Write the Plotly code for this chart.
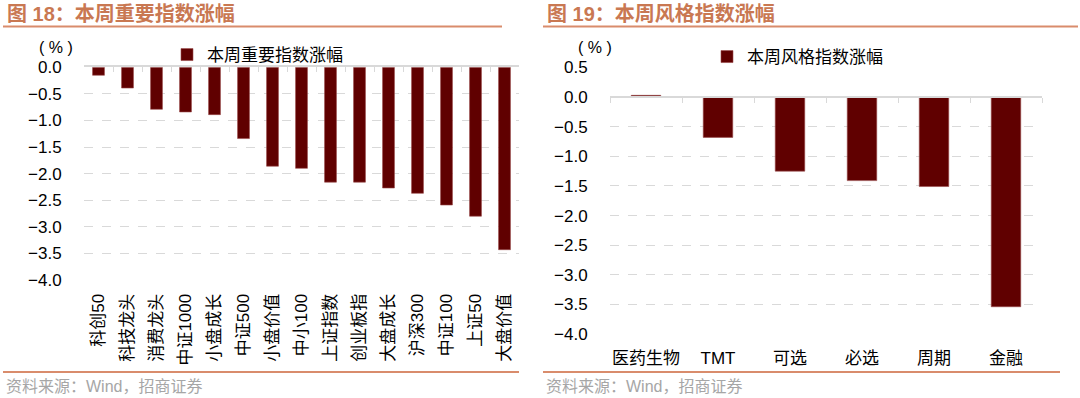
import plotly.graph_objects as go

# ---- data ----
left_categories = ["科创50", "科技龙头", "消费龙头", "中证1000", "小盘成长", "中证500", "小盘价值",
                   "中小100", "上证指数", "创业板指", "大盘成长", "沪深300", "中证100", "上证50", "大盘价值"]
left_values = [-0.15, -0.39, -0.79, -0.84, -0.89, -1.34, -1.86, -1.90, -2.16, -2.16, -2.27, -2.37, -2.59, -2.80, -3.43]
left_series_name = "本周重要指数涨幅"

right_categories = ["医药生物", "TMT", "可选", "必选", "周期", "金融"]
right_values = [0.03, -0.68, -1.25, -1.41, -1.51, -3.54]
right_series_name = "本周风格指数涨幅"

left_y_ticks = [0.0, -0.5, -1.0, -1.5, -2.0, -2.5, -3.0, -3.5, -4.0]
right_y_ticks = [0.5, 0.0, -0.5, -1.0, -1.5, -2.0, -2.5, -3.0, -3.5, -4.0]

# ---- style ----
W, H = 1080, 398
BAR = "#600000"
GRID = "#D9D9D9"
ACCENT = "#C97852"
LINE = "#D98C6C"
FONT = "Liberation Sans, Arial, Noto Sans CJK SC"
CJK = "Liberation Sans, Noto Sans CJK SC"

def px_x(p):
    return p / W

def px_y(p):
    return 1 - p / H

L_dom_x = [px_x(84), px_x(519)]
L_dom_y = [px_y(280), px_y(67.3)]
R_dom_x = [px_x(610), px_x(1042)]
R_dom_y = [px_y(334), px_y(67.5)]
R_range = [-4.0, 0.5]
R_zero = R_dom_y[0] + (0 - R_range[0]) / (R_range[1] - R_range[0]) * (R_dom_y[1] - R_dom_y[0])

fig = go.Figure()

fig.add_trace(go.Bar(x=left_categories, y=left_values, name=left_series_name,
                     marker=dict(color=BAR, line=dict(width=0.6, color="#9A4A4A")),
                     width=0.41, xaxis="x", yaxis="y", legend="legend"))
fig.add_trace(go.Scatter(x=left_categories, y=left_values, mode="markers",
                         marker=dict(opacity=0), showlegend=False, hoverinfo="skip",
                         xaxis="x2", yaxis="y"))
fig.add_trace(go.Bar(x=right_categories, y=right_values, name=right_series_name,
                     marker=dict(color=BAR, line=dict(width=0.6, color="#9A4A4A")),
                     width=0.41, xaxis="x3", yaxis="y2", legend="legend2"))
fig.add_trace(go.Scatter(x=right_categories, y=right_values, mode="markers",
                         marker=dict(opacity=0), showlegend=False, hoverinfo="skip",
                         xaxis="x4", yaxis="y2"))

fig.update_layout(
    template="none",
    width=W, height=H, autosize=False,
    margin=dict(l=0, r=0, t=0, b=0, pad=0, autoexpand=False),
    paper_bgcolor="white", plot_bgcolor="white",
    font=dict(family=FONT, color="black"),
    showlegend=True,
    xaxis=dict(domain=L_dom_x, anchor="y", type="category", automargin=False,
               categoryorder="array", categoryarray=left_categories,
               range=[-0.5, len(left_categories) - 0.5],
               tickangle=-90, tickfont=dict(family=CJK, size=17, color="black"),
               ticks="outside", ticklen=6, tickcolor="rgba(0,0,0,0)",
               showline=False, showgrid=False, zeroline=False, fixedrange=True),
    xaxis2=dict(domain=L_dom_x, anchor="y", overlaying="x", side="top", type="category",
                automargin=False,
                categoryorder="array", categoryarray=left_categories,
                range=[-0.5, len(left_categories) - 0.5],
                showticklabels=False, ticks="inside", tickson="boundaries",
                ticklen=5, tickcolor=GRID, tickwidth=1,
                showline=True, linecolor=GRID, linewidth=1.5,
                showgrid=False, zeroline=False),
    yaxis=dict(domain=L_dom_y, anchor="x", range=[-4.0, 0.0], automargin=False,
               tickvals=left_y_ticks, tickformat=".1f",
               tickfont=dict(family=FONT, size=17, color="black"),
               ticks="outside", ticklen=18, tickcolor="rgba(0,0,0,0)",
               showgrid=True, gridcolor=GRID, griddash="dash", gridwidth=1,
               showline=False, zeroline=False),
    xaxis3=dict(domain=R_dom_x, anchor="y2", type="category", automargin=False,
                categoryorder="array", categoryarray=right_categories,
                range=[-0.5, len(right_categories) - 0.5],
                tickfont=dict(family=CJK, size=17, color="black"),
                ticks="outside", ticklen=9, tickcolor="rgba(0,0,0,0)",
                showline=False, showgrid=False, zeroline=False),
    xaxis4=dict(domain=R_dom_x, anchor="free", position=R_zero, overlaying="x3", side="bottom",
                type="category", categoryorder="array", categoryarray=right_categories,
                automargin=False,
                range=[-0.5, len(right_categories) - 0.5],
                showticklabels=False, ticks="outside", tickson="boundaries",
                ticklen=5, tickcolor=GRID, tickwidth=1,
                showline=True, linecolor=GRID, linewidth=1.5,
                showgrid=False, zeroline=False),
    yaxis2=dict(domain=R_dom_y, anchor="x3", range=R_range, automargin=False,
                tickvals=right_y_ticks, tickformat=".1f",
                tickfont=dict(family=FONT, size=17, color="black"),
                ticks="outside", ticklen=18, tickcolor="rgba(0,0,0,0)",
                showgrid=True, gridcolor=GRID, griddash="dash", gridwidth=1,
                showline=False, zeroline=False),
    legend=dict(x=px_x(167), y=px_y(55), xanchor="left", yanchor="middle",
                font=dict(family=CJK, size=17, color="black"),
                bgcolor="rgba(0,0,0,0)", itemwidth=30, tracegroupgap=0),
    legend2=dict(x=px_x(707), y=px_y(57), xanchor="left", yanchor="middle",
                 font=dict(family=CJK, size=17, color="black"),
                 bgcolor="rgba(0,0,0,0)", itemwidth=30, tracegroupgap=0),
    bargap=0.59,
)

annotations = [
    dict(text="图 18：本周重要指数涨幅", x=px_x(5), y=px_y(14), xanchor="left", yanchor="middle",
         font=dict(family=CJK, size=20, color=ACCENT, weight="bold")),
    dict(text="图 19：本周风格指数涨幅", x=px_x(545), y=px_y(14), xanchor="left", yanchor="middle",
         font=dict(family=CJK, size=20, color=ACCENT, weight="bold")),
    dict(text="( % )", x=px_x(37), y=px_y(48), xanchor="left", yanchor="middle",
         font=dict(family=FONT, size=16, color="black")),
    dict(text="( % )", x=px_x(576), y=px_y(48), xanchor="left", yanchor="middle",
         font=dict(family=FONT, size=16, color="black")),
    dict(text="资料来源：Wind，招商证券", x=px_x(4), y=px_y(386), xanchor="left", yanchor="middle",
         font=dict(family=CJK, size=16, color="#A6A6A6")),
    dict(text="资料来源：Wind，招商证券", x=px_x(544), y=px_y(386), xanchor="left", yanchor="middle",
         font=dict(family=CJK, size=16, color="#A6A6A6")),
]
for a in annotations:
    a.update(xref="paper", yref="paper", showarrow=False)
fig.update_layout(annotations=annotations)

shapes = [
    dict(x0=px_x(3), x1=px_x(502), y0=px_y(26.5), y1=px_y(26.5), line=dict(color=LINE, width=2)),
    dict(x0=px_x(543), x1=px_x(1078), y0=px_y(26.5), y1=px_y(26.5), line=dict(color=LINE, width=2)),
    dict(x0=px_x(3), x1=px_x(519), y0=px_y(372), y1=px_y(372), line=dict(color=LINE, width=2)),
    dict(x0=px_x(543), x1=px_x(1060), y0=px_y(372), y1=px_y(372), line=dict(color=LINE, width=2)),
]
for s in shapes:
    s.update(type="line", xref="paper", yref="paper")
fig.update_layout(shapes=shapes)

fig.write_html("out.html",
               config={"displayModeBar": False},
               post_script="document.body.style.margin='0';document.body.style.overflow='hidden';")
